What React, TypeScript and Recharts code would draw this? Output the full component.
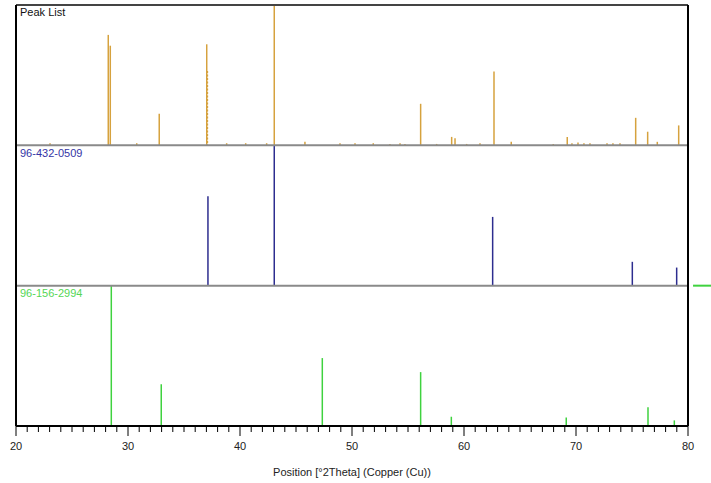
import React from 'react';
import { Bar, ComposedChart, ReferenceLine, XAxis, YAxis } from 'recharts';

// Peak List (measured) - position [°2θ] and relative intensity [%]
const peakListPos = [
  23.04, 28.24, 28.42, 30.78, 32.79, 37.03, 38.81, 40.51, 42.38, 43.06, 45.8, 48.93, 50.27,
  51.9, 53.39, 54.29, 54.73, 56.13, 57.56, 58.9, 59.2, 60.24, 61.43, 62.68, 64.22, 67.97,
  69.22, 69.64, 70.18, 70.71, 71.25, 72.77, 73.3, 73.93, 75.33, 76.4, 77.26, 79.17,
];
const peakListInt = [
  1.5, 78.7, 71, 1.5, 22.5, 72, 1.5, 1.5, 1.5, 100, 2.5, 1.5, 1.5,
  1.5, 1, 1.5, 1, 29.6, 1, 6, 5, 1, 1.5, 52.7, 2.5, 1,
  6, 1.5, 2, 1.5, 1.5, 1.5, 1.5, 1.5, 19.6, 9.7, 2.5, 14.2,
];
const peakListDashedPos = [37.09];
const peakListDashedInt = [53];

// 96-432-0509 reference pattern
const ref1Pos = [37.14, 43.06, 62.56, 75.03, 78.99];
const ref1Int = [63.8, 100, 49, 17, 12.9];

// 96-156-2994 reference pattern
const ref2Pos = [28.51, 32.97, 47.35, 56.13, 58.87, 69.13, 76.43, 78.78];
const ref2Int = [100, 29.8, 48.4, 38.4, 6.6, 6, 13.4, 4];

const majorTicks = [20, 30, 40, 50, 60, 70, 80];
const allTicks = Array.from({ length: 61 }, (_, i) => 20 + i);

const ORANGE = '#d6a23e';
const BLUE = '#2d2d8f';
const GREEN = '#3fd23f';

type Row = { x: number; range: [number, number]; color: string; dashed?: boolean };

const toRows = (pos: number[], ints: number[], base: number, color: string, dashed = false): Row[] =>
  pos.map((p, i) => ({ x: p, range: [base, base + ints[i]], color, dashed }));

const data: Row[] = [
  ...toRows(peakListPos, peakListInt, 200, ORANGE),
  ...toRows(peakListDashedPos, peakListDashedInt, 200, ORANGE, true),
  ...toRows(ref1Pos, ref1Int, 100, BLUE),
  ...toRows(ref2Pos, ref2Int, 0, GREEN),
];

const FONT = '"Liberation Sans", Arial, sans-serif';

const Stem = (props: any) => {
  const { x, y, width, height, payload } = props;
  const cx = x + width / 2;
  return (
    <line
      x1={cx}
      x2={cx}
      y1={y}
      y2={y + height}
      stroke={payload.color}
      strokeWidth={1.5}
      strokeDasharray={payload.dashed ? '2 1.5' : undefined}
    />
  );
};

const Tick = (props: any) => {
  const { x, y, payload } = props;
  const major = majorTicks.includes(payload.value);
  return (
    <g>
      <line x1={x} x2={x} y1={y} y2={y + (major ? 10 : 6)} stroke="#000" strokeWidth={1} />
      {major && (
        <text x={x} y={y + 24} textAnchor="middle" fontSize={11} fontFamily={FONT} fill="#222">
          {payload.value}
        </text>
      )}
    </g>
  );
};

const labelStyle = (top: number, color: string): React.CSSProperties => ({
  position: 'absolute',
  left: 20,
  top,
  fontSize: 11,
  lineHeight: '12px',
  fontFamily: FONT,
  color,
});

export default function App() {
  return (
    <div style={{ position: 'absolute', left: 0, top: 0, width: 711, height: 483, background: '#fff' }}>
      <ComposedChart
        width={711}
        height={483}
        data={data}
        margin={{ top: 5, right: 23, bottom: 0, left: 16 }}
      >
        <XAxis
          dataKey="x"
          type="number"
          domain={[20, 80]}
          ticks={allTicks}
          interval={0}
          height={57}
          tickSize={0}
          tickMargin={0}
          tickLine={false}
          tick={<Tick />}
          axisLine={{ stroke: '#000', strokeWidth: 2 }}
          allowDataOverflow
          label={{
            value: 'Position [°2Theta] (Copper (Cu))',
            position: 'insideBottom',
            offset: 7,
            fontSize: 11,
            fontFamily: FONT,
            fill: '#222',
          }}
        />
        <YAxis type="number" domain={[0, 300]} hide allowDataOverflow />
        <Bar dataKey="range" barSize={2} shape={<Stem />} isAnimationActive={false} />
        <ReferenceLine y={100} stroke="#8a8a8a" strokeWidth={2} />
        <ReferenceLine y={200} stroke="#8a8a8a" strokeWidth={2} />
        <ReferenceLine y={300} stroke="#444" strokeWidth={2} />
        <ReferenceLine x={20} stroke="#000" strokeWidth={2} />
        <ReferenceLine x={80} stroke="#000" strokeWidth={2} />
        <ReferenceLine
          segment={[
            { x: 80.45, y: 100 },
            { x: 82.1, y: 100 },
          ]}
          stroke={GREEN}
          strokeWidth={2}
          ifOverflow="visible"
        />
      </ComposedChart>
      <div style={labelStyle(6, '#111')}>Peak List</div>
      <div style={labelStyle(147, '#3535a5')}>96-432-0509</div>
      <div style={labelStyle(287, '#55d655')}>96-156-2994</div>
    </div>
  );
}
